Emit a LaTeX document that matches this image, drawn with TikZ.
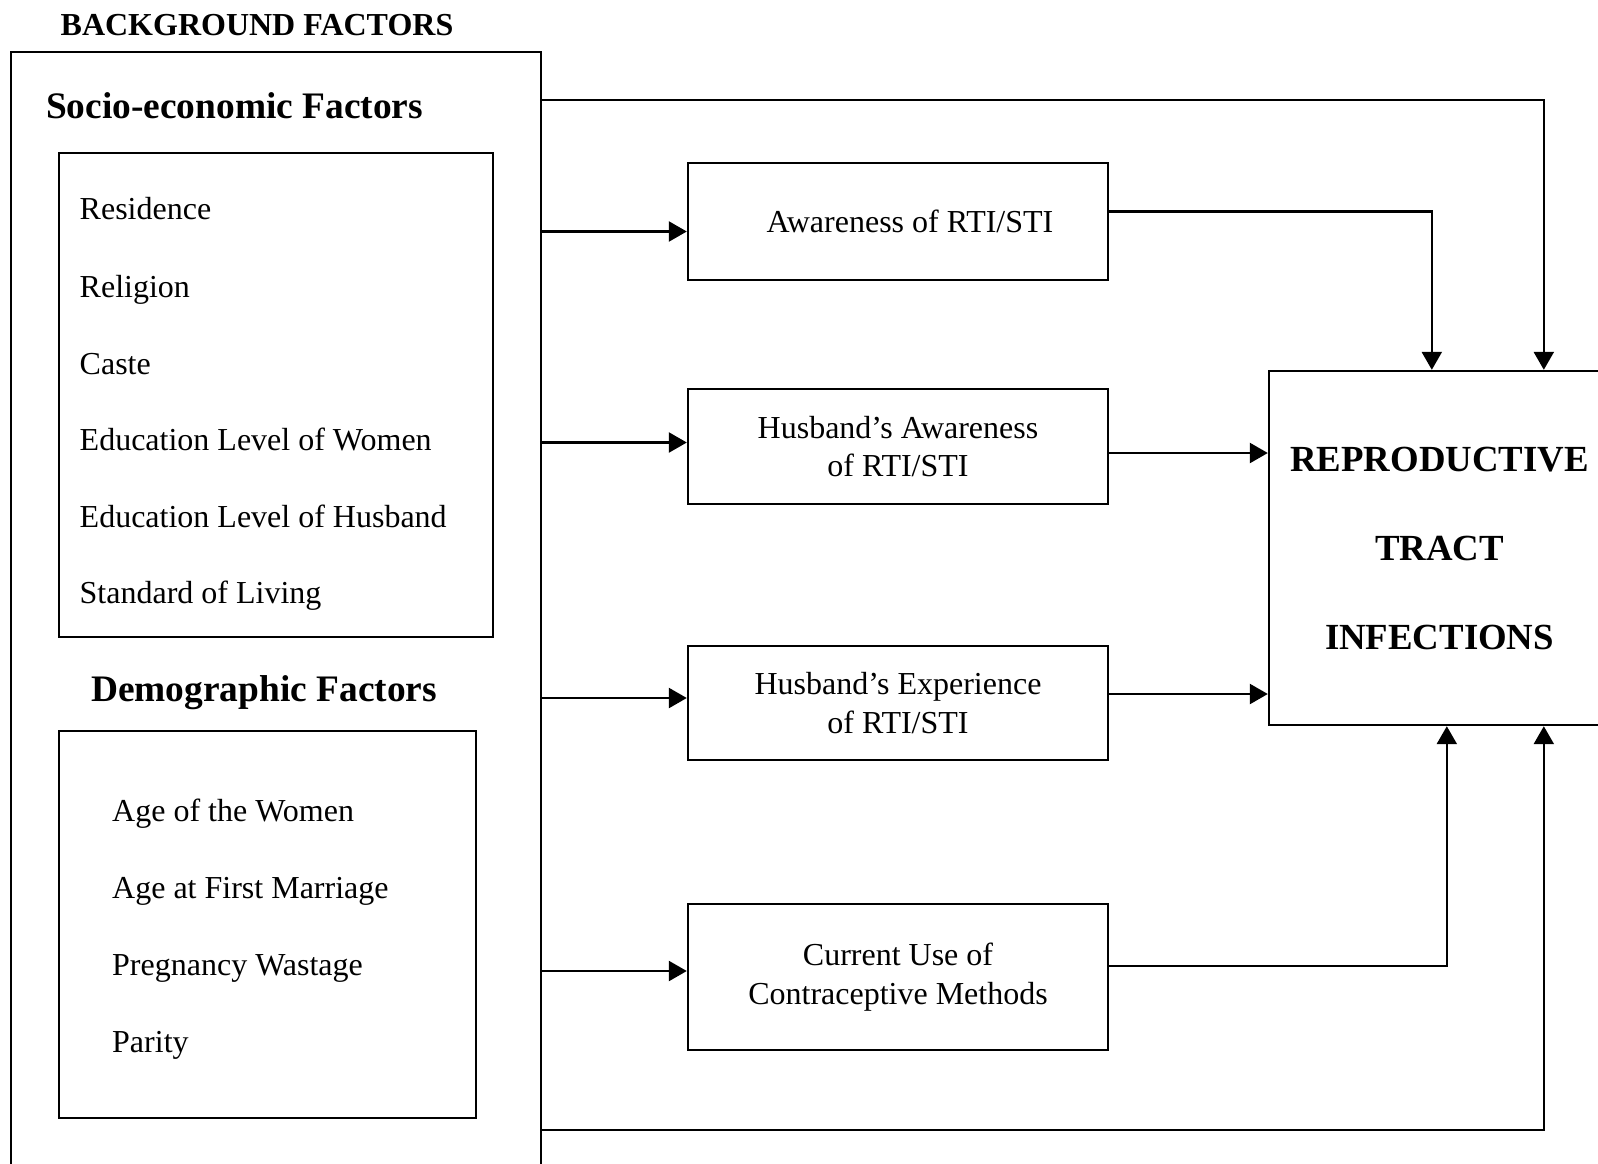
\documentclass[tikz,border=0pt]{standalone}
\usepackage{fontspec}
\setmainfont{Liberation Serif}
\usetikzlibrary{arrows.meta}

\begin{document}
\begin{tikzpicture}[x=0.5pt,y=-0.5pt,line width=1.2pt,
    box/.style={draw,line width=1.2pt,inner sep=0pt},
    midbox/.style={box,minimum width=210pt,align=center,font=\fontsize{16}{19.4}\selectfont},
    item/.style={anchor=base west,inner sep=0pt,font=\fontsize{16}{19.4}\selectfont},
    head/.style={inner sep=0pt,font=\fontsize{18.7}{22}\selectfont\bfseries},
    arr/.style={-{Triangle[length=9pt,width=10pt]}}]
    \useasboundingbox (0,0) rectangle (1598,1163);
    \clip (0,0) rectangle (1598,1163);
    % background factors
    \node[inner sep=0pt,font=\fontsize{16}{19.4}\selectfont\bfseries] (bgtitle) at (257,25.5) {BACKGROUND FACTORS};
    \node[box,minimum width=265pt,minimum height=564pt] (bg) at (276,616) {};
    \node[head] (sochead) at (234.5,106) {Socio-economic Factors};
    \node[box,minimum width=217pt,minimum height=242pt] (socio) at (276,395) {};
    \node[item] (res) at (78.5,219) {Residence};
    \node[item] (rel) at (78.5,297) {Religion};
    \node[item] (cas) at (78.5,374) {Caste};
    \node[item] (eduw) at (78.5,450) {Education Level of Women};
    \node[item] (eduh) at (78.5,527) {Education Level of Husband};
    \node[item] (sol) at (78.5,603) {Standard of Living};
    \node[head] (demhead) at (264,693) {Demographic Factors};
    \node[box,minimum width=208.5pt,minimum height=193.5pt] (demo) at (267.5,924.5) {};
    \node[item] (agew) at (111,821) {Age of the Women};
    \node[item] (agem) at (111,898) {Age at First Marriage};
    \node[item] (preg) at (111,975) {Pregnancy Wastage};
    \node[item] (par) at (111,1052) {Parity};
    % middle column
    \node[midbox,minimum height=58.5pt] (aware) at (898,221.5) {\hspace*{12pt}Awareness of RTI/STI};
    \node[midbox,minimum height=57.5pt] (haware) at (898,446.5) {Husband's Awareness\\of RTI/STI};
    \node[midbox,minimum height=57pt] (hexp) at (898,703) {Husband's Experience\\of RTI/STI};
    \node[midbox,minimum height=73pt] (contra) at (898,977) {Current Use of\\Contraceptive Methods};
    % outcome
    \node[box,minimum width=170.5pt,minimum height=177pt,align=center,font=\fontsize{18.4}{44.5}\selectfont\bfseries] (rti) at (1439.5,548) {REPRODUCTIVE\\TRACT\\INFECTIONS};
    % arrow ends
    \coordinate (awarein) at ([yshift=-5pt]aware.west);
    \coordinate (hawarein) at ([yshift=2pt]haware.west);
    \coordinate (hexpin) at ([yshift=2.5pt]hexp.west);
    \coordinate (contrain) at ([yshift=3pt]contra.west);
    \coordinate (hawareout) at ([yshift=-3.25pt]haware.east);
    \coordinate (hexpout) at ([yshift=4.5pt]hexp.east);
    % arrows
    \draw[arr] (bg.east |- awarein) -- (awarein);
    \draw[arr] (bg.east |- hawarein) -- (hawarein);
    \draw[arr] (bg.east |- hexpin) -- (hexpin);
    \draw[arr] (bg.east |- contrain) -- (contrain);
    \draw[arr] ([yshift=-24.5pt]bg.north east) -| ([xshift=138pt]rti.north west);
    \draw[arr] ([yshift=5pt]aware.east) -| ([xshift=82pt]rti.north west);
    \draw[arr] (hawareout) -- (hawareout -| rti.west);
    \draw[arr] (hexpout) -- (hexpout -| rti.west);
    \draw[arr] ([yshift=5.5pt]contra.east) -| ([xshift=89.5pt]rti.south west);
    \draw[arr] ([yshift=-257pt]bg.east) -| ([xshift=138pt]rti.south west);
\end{tikzpicture}
\end{document}
